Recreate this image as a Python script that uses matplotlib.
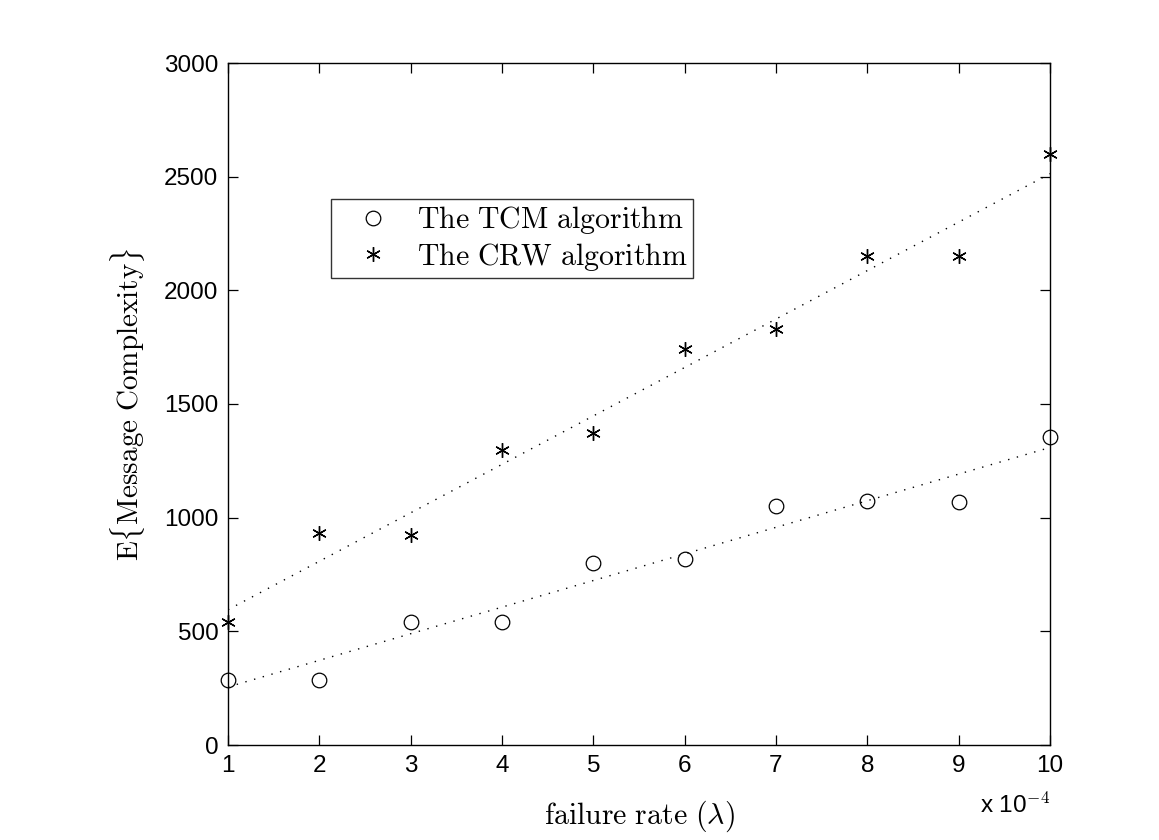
import numpy as np
import matplotlib
matplotlib.use("Agg")
import matplotlib.pyplot as plt

# Data (failure rate in units of 1e-4)
failure_rate = [1, 2, 3, 4, 5, 6, 7, 8, 9, 10]
tcm_values = [286, 286, 541, 541, 800, 818, 1051, 1073, 1069, 1355]
crw_values = [541, 932, 924, 1298, 1372, 1742, 1830, 2151, 2151, 2600]
x_ticks = [1, 2, 3, 4, 5, 6, 7, 8, 9, 10]
y_ticks = [0, 500, 1000, 1500, 2000, 2500, 3000]

plt.rcParams['mathtext.fontset'] = 'cm'
plt.rcParams['font.family'] = ['Liberation Sans', 'DejaVu Sans']

fig = plt.figure(figsize=(11.59, 8.40), dpi=100)
ax = fig.add_axes([228/1159, 1-745/840, (1050-228)/1159, (745-63)/840])

x = np.array(failure_rate, dtype=float)
h1, = ax.plot(x, tcm_values, linestyle='none', marker='o', markersize=10.5,
              markerfacecolor='none', markeredgecolor='black', markeredgewidth=0.9,
              label=r'$\mathrm{The\ TCM\ algorithm}$', clip_on=False, zorder=5)
h2, = ax.plot(x, crw_values, linestyle='none', marker=(6, 2, 0), markersize=10.5,
              color='black', markeredgewidth=1.0,
              label=r'$\mathrm{The\ CRW\ algorithm}$', clip_on=False, zorder=5)

# least-squares linear fits
for vals in (tcm_values, crw_values):
    p = np.polyfit(x, vals, 1)
    xf = np.linspace(x[0], x[-1], 200)
    ax.plot(xf, np.polyval(p, xf), linestyle=(0, (1, 5.5)), color='black', linewidth=1.0)

ax.set_xlim(1, 10)
ax.set_ylim(0, 3000)
ax.set_xticks(x_ticks)
ax.set_yticks(y_ticks)
ax.tick_params(direction='in', top=True, right=True, length=7, width=0.9,
               labelsize=17.5, pad=7)
for s in ax.spines.values():
    s.set_linewidth(1.0)

ax.set_xlabel(r'$\mathrm{failure\ rate\ (}\lambda\mathrm{)}$', fontsize=21.5, labelpad=16)
ax.set_ylabel(r'$\mathrm{E\{Message\ Complexity\}}$', fontsize=21, labelpad=12)

ax.text(1.0, -0.07, r'x 10$^{-4}$', transform=ax.transAxes, ha='right', va='top',
        fontsize=17.5)

leg = ax.legend(handles=[h1, h2], loc='upper left', bbox_to_anchor=(0.1255, 0.8006),
                fontsize=21.5, frameon=True, fancybox=False, edgecolor='black',
                handlelength=2.45, handletextpad=0.25, borderpad=0.17, labelspacing=0.15,
                borderaxespad=0)
leg.get_frame().set_linewidth(1.0)

fig.savefig('out.png', dpi=100, facecolor='white')
